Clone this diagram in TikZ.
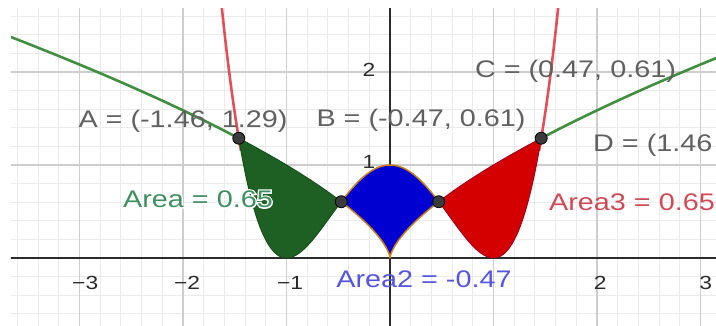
\documentclass[tikz,border=0pt]{standalone}
\usepackage{fontspec}
\setmainfont{Liberation Sans}[FakeStretch=1.2]
\definecolor{minorgrid}{HTML}{EBEBEB}
\definecolor{majorgrid}{HTML}{CDCDCD}
\definecolor{axiscol}{HTML}{2B2B2B}
\definecolor{gcurve}{HTML}{3F8F3F}
\definecolor{rcurve}{HTML}{E0505A}
\definecolor{gfill}{HTML}{1E6023}
\definecolor{gedge}{HTML}{17501B}
\definecolor{bfill}{HTML}{0000D0}
\definecolor{bedge}{HTML}{C8801E}
\definecolor{rfill}{HTML}{D40000}
\definecolor{redge}{HTML}{A00020}
\definecolor{labgray}{HTML}{606060}
\definecolor{labgreen}{HTML}{3F8F5F}
\definecolor{labblue}{HTML}{5555DD}
\definecolor{labred}{HTML}{D04A55}
\definecolor{ptfill}{HTML}{3B3B3B}
\tikzset{
  minorline/.style={draw=minorgrid, line width=0.8pt},
  majorline/.style={draw=majorgrid, line width=1.2pt},
  axisline/.style={draw=axiscol, line width=1.8pt},
  greencurve/.style={draw=gcurve, line width=2.6pt},
  redcurve/.style={draw=rcurve, line width=2.6pt},
  ticklab/.style={text=axiscol, font=\fontsize{19}{22}\selectfont, inner sep=0pt},
  ptlab/.style={text=labgray, font=\fontsize{24}{28}\selectfont, inner sep=0pt},
  arealab/.style={font=\fontsize{24}{28}\selectfont, inner sep=0pt},
  gpt/.style={circle, inner sep=0pt, minimum size=12pt, fill=ptfill, draw=black, line width=0.8pt}
}
\begin{document}
\begin{tikzpicture}[x=103.5pt,y=93pt]
\useasboundingbox (-390pt,-68pt) rectangle (326pt,258pt);
\begin{scope}
\clip (-379pt,-68pt) rectangle (326pt,249pt);
% grid
\foreach \i in {-18,...,15} \draw[minorline] (\i*0.2,-1) -- (\i*0.2,3);
\foreach \j in {-4,...,13} \draw[minorline] (-4,\j*0.2) -- (4,\j*0.2);
\foreach \i in {-3,...,3} \draw[majorline] (\i,-1) -- (\i,3);
\foreach \j in {1,2} \draw[majorline] (-4,\j) -- (4,\j);
% axes
\draw[axisline] (-4,0) -- (4,0);
\draw[axisline] (0,-1) -- (0,3);
% tick labels
\node[ticklab] (tx1) at (-2.945,-0.269) {−3};
\node[ticklab] (tx2) at (-1.961,-0.269) {−2};
\node[ticklab] (tx3) at (-0.966,-0.269) {−1};
\node[ticklab] (tx5) at (2.03,-0.269) {2};
\node[ticklab] (tx6) at (3.05,-0.269) {3};
\node[ticklab] (ty2) at (-0.203,2.02) {2};
\node[ticklab] (ty1) at (-0.203,1.03) {1};
% curves
\draw[greencurve] plot[domain=-1.5500:-1.125,samples=50] ({\x*\x*\x},{\x*\x});
\draw[greencurve] plot[domain=1.125:1.4700,samples=50] ({\x*\x*\x},{\x*\x});
\draw[redcurve] plot[domain=-1.65:-1.44,samples=30] (\x,{(\x*\x-1)*(\x*\x-1)});
\draw[redcurve] plot[domain=1.44:1.65,samples=30] (\x,{(\x*\x-1)*(\x*\x-1)});
% regions
\filldraw[fill=gfill, draw=gedge, line width=1pt]
  plot[domain=-1.1347:-0.7781,samples=40] ({\x*\x*\x},{\x*\x})
  -- plot[domain=-0.471:-1.461,samples=50] (\x,{(\x*\x-1)*(\x*\x-1)}) -- cycle;
\filldraw[fill=bfill, draw=bedge, line width=1.5pt, line join=round]
  plot[domain=-0.471:0.471,samples=50] (\x,{(\x*\x-1)*(\x*\x-1)})
  -- plot[domain=0.7781:-0.7781,samples=61] ({\x*\x*\x},{\x*\x}) -- cycle;
\filldraw[fill=rfill, draw=redge, line width=1pt]
  plot[domain=0.7781:1.1347,samples=40] ({\x*\x*\x},{\x*\x})
  -- plot[domain=1.461:0.471,samples=50] (\x,{(\x*\x-1)*(\x*\x-1)}) -- cycle;
\end{scope}
% points
\node[gpt] (A) at (-1.461,1.288) {};
\node[gpt] (B) at (-0.471,0.605) {};
\node[gpt] (C) at (0.471,0.605) {};
\node[gpt] (D) at (1.461,1.288) {};
% point labels
\node[ptlab] (lA) at (-2.0,1.473) {A = (-1.46, 1.29)};
\node[ptlab] (lB) at (0.2995,1.484) {B = (-0.47, 0.61)};
\node[ptlab] (lC) at (1.792,2.011) {C = (0.47, 0.61)};
\node[ptlab, anchor=west] (lD) at (1.961,1.215) {D = (1.46};
% area labels: the green one gets a white halo (stroked glyph outlines underneath)
\node[arealab, text=white] (ar1halo) at (-1.855,0.634)
  {\special{pdf:literal direct 1 Tr 2.8 w}Area = 0.65\special{pdf:literal direct 0 Tr}};
\node[arealab, text=labgreen] (ar1) at (-1.855,0.634) {Area = 0.65};
\node[arealab, text=labblue] (ar2) at (0.3285,-0.226) {Area2 = -0.47};
\node[arealab, text=labred, anchor=west] (ar3) at (1.536,0.602) {Area3 = 0.65};
\end{tikzpicture}
\end{document}
